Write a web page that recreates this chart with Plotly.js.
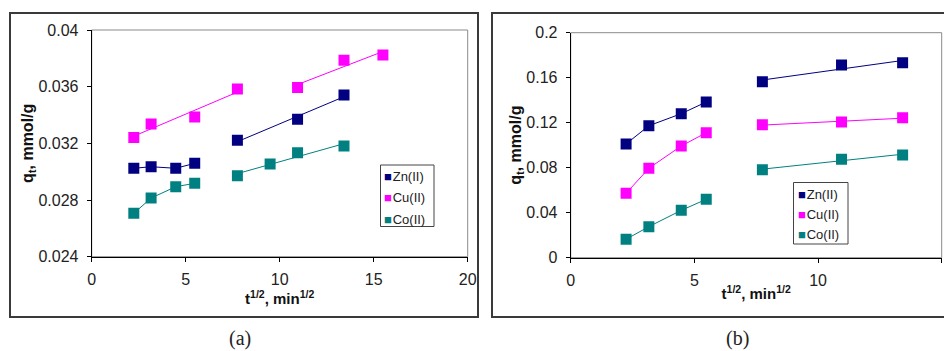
<!DOCTYPE html>
<html>
<head>
<meta charset="utf-8">
<script src="https://cdn.plot.ly/plotly-3.0.1.min.js"></script>
<style>html,body{margin:0;padding:0;background:#fff;}#chart{width:944px;height:351px;}</style>
</head>
<body>
<div id="chart"></div>
<script>
// ---------- DATA ----------
const seriesNames = ['Zn(II)', 'Cu(II)', 'Co(II)'];
const seriesColors = ['#000080', '#FF00FF', '#008080'];

// Panel (a)
const aZnX = [2.24, 3.16, 4.47, 5.48, 7.75, 10.95, 13.42];
const aZnY = [0.03024, 0.03035, 0.03024, 0.03059, 0.03221, 0.03370, 0.03541];
const aCuX = [2.24, 3.16, 5.48, 7.75, 10.95, 13.42, 15.49];
const aCuY = [0.03242, 0.03336, 0.03386, 0.03584, 0.03595, 0.03786, 0.03824];
const aCoX = [2.24, 3.16, 4.47, 5.48, 7.75, 9.49, 10.95, 13.42];
const aCoY = [0.02706, 0.02814, 0.02894, 0.02918, 0.02972, 0.03054, 0.03134, 0.03181];
const aStage1Len = [4, 4, 4];              // points in the first stage
const aStage1Mode = ['link', 'fit', 'link'];

// Panel (b)
const bZnX = [2.24, 3.16, 4.47, 5.48, 7.75, 10.95, 13.42];
const bZnY = [0.1011, 0.1173, 0.1280, 0.1384, 0.1564, 0.1713, 0.1733];
const bCuX = [2.24, 3.16, 4.47, 5.48, 7.75, 10.95, 13.42];
const bCuY = [0.0572, 0.0795, 0.0993, 0.1111, 0.1182, 0.1206, 0.1244];
const bCoX = [2.24, 3.16, 4.47, 5.48, 7.75, 10.95, 13.42];
const bCoY = [0.0164, 0.0276, 0.0421, 0.0519, 0.0782, 0.0874, 0.0913];
const bStage1Len = [4, 4, 4];
const bStage1Mode = ['link', 'link', 'link'];

// Tick labels
const aXTicks = [0, 5, 10, 15, 20];
const aXTickText = ['0', '5', '10', '15', '20'];
const aYTicks = [0.024, 0.028, 0.032, 0.036, 0.04];
const aYTickText = ['0.024', '0.028', '0.032', '0.036', '0.04'];
const bXTicks = [0, 5, 10, 15];
const bXTickText = ['0', '5', '10', '15'];
const bYTicks = [0, 0.04, 0.08, 0.12, 0.16, 0.2];
const bYTickText = ['0', '0.04', '0.08', '0.12', '0.16', '0.2'];

const xTitle = 't<sup>1/2</sup>, min<sup>1/2</sup>';
const yTitle = 'q<sub>t</sub>, mmol/g';
const captions = ['(a)', '(b)'];

// ---------- helpers ----------
const W = 944, H = 351;
const PX = p => p / W;
const PY = p => 1 - p / H;

function fit(xs, ys) {
  const n = xs.length;
  const mx = xs.reduce((s, v) => s + v, 0) / n;
  const my = ys.reduce((s, v) => s + v, 0) / n;
  let sxy = 0, sxx = 0;
  for (let i = 0; i < n; i++) { sxy += (xs[i] - mx) * (ys[i] - my); sxx += (xs[i] - mx) ** 2; }
  const b = sxy / sxx, a = my - b * mx;
  const x0 = xs[0], x1 = xs[n - 1];
  return { x: [x0, x1], y: [a + b * x0, a + b * x1] };
}

const traces = [];
function addPanel(xsArr, ysArr, lens, modes, xa, ya) {
  for (let i = 0; i < xsArr.length; i++) {
    const xs = xsArr[i], ys = ysArr[i], k = lens[i], col = seriesColors[i];
    const s1x = xs.slice(0, k), s1y = ys.slice(0, k);
    const s2x = xs.slice(k), s2y = ys.slice(k);
    const seg1 = modes[i] === 'link' ? { x: s1x, y: s1y } : fit(s1x, s1y);
    const seg2 = fit(s2x, s2y);
    [seg1, seg2].forEach(seg => traces.push({
      x: seg.x, y: seg.y, xaxis: xa, yaxis: ya, type: 'scatter', mode: 'lines',
      line: { color: col, width: 1 }, showlegend: false, hoverinfo: 'skip'
    }));
  }
  for (let i = 0; i < xsArr.length; i++) {
    traces.push({
      x: xsArr[i], y: ysArr[i], xaxis: xa, yaxis: ya, type: 'scatter', mode: 'markers',
      name: seriesNames[i], showlegend: false,
      marker: { symbol: 'square', size: 11, color: seriesColors[i], line: { width: 0 } }
    });
  }
}
addPanel([aZnX, aCuX, aCoX], [aZnY, aCuY, aCoY], aStage1Len, aStage1Mode, 'x', 'y');
addPanel([bZnX, bCuX, bCoX], [bZnY, bCuY, bCoY], bStage1Len, bStage1Mode, 'x2', 'y2');

const FONT = 'Liberation Sans, Arial, sans-serif';
const tickFont = { family: FONT, size: 16, color: '#222' };

function xAxis(domain, range, tv, tt, anchor) {
  return {
    domain, range, anchor, tickmode: 'array', tickvals: tv, ticktext: tt,
    ticks: 'outside', ticklen: 4, tickcolor: '#000', tickwidth: 1,
    showline: true, linecolor: '#000', linewidth: 1, showgrid: false, zeroline: false,
    tickfont: tickFont, ticklabelstandoff: 4,
    title: { text: xTitle, font: { family: FONT, size: 15, color: '#111', weight: 'bold' }, standoff: 0 }
  };
}
function yAxis(domain, range, tv, tt, anchor) {
  return {
    domain, range, anchor, tickmode: 'array', tickvals: tv, ticktext: tt,
    ticks: 'outside', ticklen: 4, tickcolor: '#000', tickwidth: 1,
    showline: true, linecolor: '#000', linewidth: 1, showgrid: false, zeroline: false,
    tickfont: tickFont, ticklabelstandoff: 5,
    title: { text: yTitle, font: { family: FONT, size: 16, color: '#111', weight: 'bold' }, standoff: 0 }
  };
}

const shapes = [
  // outer panel frames
  { type: 'rect', xref: 'paper', yref: 'paper', x0: PX(10), x1: PX(478), y0: PY(317), y1: PY(13), line: { color: '#3a3a3a', width: 2 } },
  { type: 'rect', xref: 'paper', yref: 'paper', x0: PX(492), x1: PX(960), y0: PY(317), y1: PY(13), line: { color: '#3a3a3a', width: 2 } },
  // plot-area frames (grey)
  { type: 'rect', xref: 'x domain', yref: 'y domain', x0: 0, x1: 1, y0: 0, y1: 1, line: { color: '#8a8a8a', width: 1 }, layer: 'below' },
  { type: 'rect', xref: 'x2 domain', yref: 'y2 domain', x0: 0, x1: 1, y0: 0, y1: 1, line: { color: '#8a8a8a', width: 1 }, layer: 'below' },
  // legend boxes
  { type: 'rect', xref: 'paper', yref: 'paper', x0: PX(380.5), x1: PX(434), y0: PY(226.5), y1: PY(165), line: { color: '#444', width: 1 }, fillcolor: 'rgba(255,255,255,0)' },
  { type: 'rect', xref: 'paper', yref: 'paper', x0: PX(793.5), x1: PX(848), y0: PY(244), y1: PY(182.5), line: { color: '#444', width: 1 }, fillcolor: 'rgba(255,255,255,0)' }
];

const annotations = [];
const legA = { x: 383, y0: 176, dy: 21.5 };
const legB = { x: 796.5, y0: 194, dy: 20 };
[legA, legB].forEach(L => {
  seriesNames.forEach((nm, i) => {
    annotations.push({
      xref: 'paper', yref: 'paper', x: PX(L.x), y: PY(L.y0 + i * L.dy),
      xanchor: 'left', yanchor: 'middle', showarrow: false, borderpad: 0,
      text: "<span style='color:" + seriesColors[i] + ";font-size:13px'>■</span><span style='font-size:3px'> </span>" + nm,
      font: { family: FONT, size: 13, color: '#222' }
    });
  });
});
annotations.push({ xref: 'paper', yref: 'paper', x: PX(240), y: PY(338), xanchor: 'center', yanchor: 'middle', showarrow: false, text: captions[0], font: { family: 'Liberation Serif, Times New Roman, serif', size: 20, color: '#222' } });
annotations.push({ xref: 'paper', yref: 'paper', x: PX(737), y: PY(338), xanchor: 'center', yanchor: 'middle', showarrow: false, text: captions[1], font: { family: 'Liberation Serif, Times New Roman, serif', size: 20, color: '#222' } });

const layout = {
  width: W, height: H, margin: { l: 0, r: 0, t: 0, b: 0 },
  paper_bgcolor: '#fff', plot_bgcolor: '#fff', showlegend: false,
  xaxis: xAxis([PX(91.7), PX(467.7)], [0, 20], aXTicks, aXTickText, 'y'),
  yaxis: yAxis([PY(256.7), PY(30)], [0.024, 0.04], aYTicks, aYTickText, 'x'),
  xaxis2: xAxis([PX(570.7), PX(941.7)], [0, 15], bXTicks, bXTickText, 'y2'),
  yaxis2: yAxis([PY(257.7), PY(32.7)], [0, 0.2], bYTicks, bYTickText, 'x2'),
  shapes, annotations
};

Plotly.newPlot('chart', traces, layout, { staticPlot: true, displayModeBar: false });
</script>
</body>
</html>
